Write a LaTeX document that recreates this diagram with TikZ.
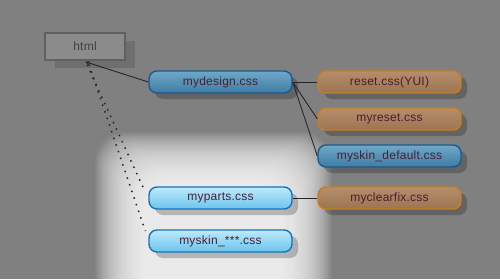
\documentclass[tikz,border=0pt]{standalone}
\usepackage{fontspec}
\setmainfont{Liberation Sans}[LetterSpace=2]
\usetikzlibrary{shadows,arrows.meta,calc}
\definecolor{bg}{HTML}{808080}
\definecolor{dbtop}{HTML}{6FA8C8}
\definecolor{dbbot}{HTML}{3F7CA4}
\definecolor{dbdraw}{HTML}{1D5A8C}
\definecolor{lbtop}{HTML}{BDEAFC}
\definecolor{lbbot}{HTML}{6CC4EE}
\definecolor{lbdraw}{HTML}{1A72B6}
\definecolor{ortop}{HTML}{B58E6C}
\definecolor{orbot}{HTML}{9C7450}
\definecolor{ordraw}{HTML}{C67E20}
\definecolor{txt}{HTML}{4A1E32}
\definecolor{htmlfill}{HTML}{8B8B8B}
\definecolor{htmldraw}{HTML}{606060}
\tikzset{
  cssbox/.style={rounded corners=8pt, minimum width=143pt, minimum height=22pt, inner sep=0pt,
     line width=1.4pt, text=txt, font=\fontsize{12}{14}\selectfont,
     drop shadow={shadow xshift=6pt, shadow yshift=-6pt, fill=black, opacity=0.22}},
  darkblue/.style={cssbox, draw=dbdraw, top color=dbtop, bottom color=dbbot},
  lightblue/.style={cssbox, draw=lbdraw, top color=lbtop, bottom color=lbbot},
  orangebox/.style={cssbox, draw=ordraw, top color=ortop, bottom color=orbot},
  htmlbox/.style={minimum width=80pt, minimum height=27pt, inner sep=0pt, draw=htmldraw, line width=1.4pt,
     fill=htmlfill, text=black!75, font=\fontsize{12}{14}\selectfont,
     drop shadow={shadow xshift=10pt, shadow yshift=-8pt, fill=black, opacity=0.13}},
  link/.style={draw=black!85, line width=0.9pt},
  dotlink/.style={draw=black!85, line width=1.5pt, dash pattern=on 1.5pt off 5.5pt}
}
\begin{document}
\begin{tikzpicture}[x=1pt,y=-1pt]
\fill[bg] (0,0) rectangle (500,279);
\useasboundingbox (0,0) rectangle (500,279);
% glow
\foreach \i in {0,...,31} {
  \fill[white, opacity=0.065, rounded corners=30pt] ({145-1.6*\i},{182-1.6*\i}) rectangle ({282+1.6*\i},{310});
}
\node[htmlbox] (html) at (85,46.5) {html};
\node[darkblue] (mydesign) at (220.5,82) {mydesign.css};
\node[orangebox] (reset) at (389.5,82) {reset.css(YUI)};
\node[orangebox] (myreset) at (389.5,119) {myreset.css};
\node[darkblue] (myskindef) at (389.5,156) {myskin\_default.css};
\node[lightblue] (myparts) at (220.5,198) {myparts.css};
\node[orangebox] (myclearfix) at (389.5,198) {myclearfix.css};
\node[lightblue] (myskin) at (220.5,241) {myskin\_***.css};
\draw[link,-{Stealth[length=5pt,width=4pt]}] (mydesign.west) -- ($(html.south)+(0,1)$);
\draw[dotlink] ($(html.south)+(2,4)$) -- ($(myparts.west)+(-4,-8)$);
\draw[dotlink] ($(html.south)+(4,4)$) -- ($(myskin.west)+(-3,-10)$);
\draw[link] (mydesign.east) -- (reset.west);
\draw[link] (mydesign.east) -- (myreset.west);
\draw[link] (mydesign.east) -- (myskindef.west);
\draw[link] (myparts.east) -- (myclearfix.west);
\end{tikzpicture}
\end{document}
